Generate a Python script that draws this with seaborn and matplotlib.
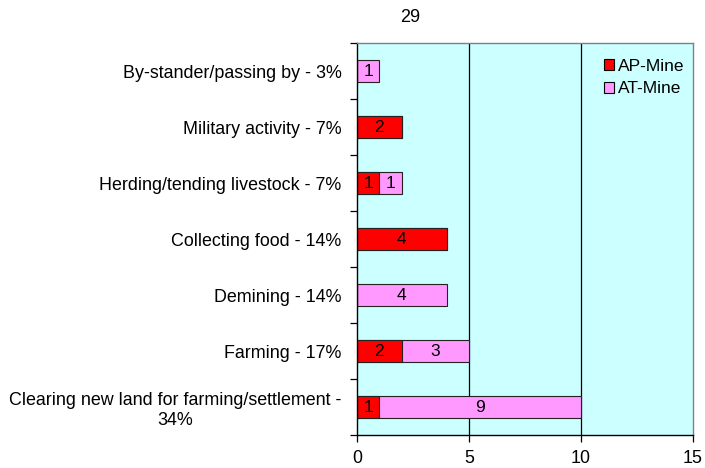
import matplotlib
matplotlib.use("Agg")
import matplotlib.pyplot as plt
import seaborn as sns
import pandas as pd
import numpy as np
from matplotlib.patches import Patch

categories = [
    "By-stander/passing by - 3%",
    "Military activity - 7%",
    "Herding/tending livestock - 7%",
    "Collecting food - 14%",
    "Demining - 14%",
    "Farming - 17%",
    "Clearing new land for farming/settlement -\n34%",
]
ap_mine = [0, 2, 1, 4, 0, 2, 1]
at_mine = [1, 0, 1, 0, 4, 3, 9]
x_ticks = [0, 5, 10, 15]
title = "29"

sns.set_theme(style="white")
plt.rcParams["font.family"] = ["Liberation Sans", "DejaVu Sans"]
plt.rcParams["text.color"] = "black"
plt.rcParams["xtick.color"] = "black"
plt.rcParams["ytick.color"] = "black"
plt.rcParams["xtick.labelcolor"] = "black"
plt.rcParams["ytick.labelcolor"] = "black"

RED = "#FF0000"
PINK = "#FF99FF"
BG = "#CCFFFF"
FS = 12.9

df = pd.DataFrame({"cat": categories, "AP": ap_mine, "AT": at_mine})
df["total"] = df["AP"] + df["AT"]

fig = plt.figure(figsize=(7.05, 4.68), dpi=100)
ax = fig.add_axes([357/705, 1-435/468, (693-357)/705, (435-43)/468])
ax.set_facecolor(BG)

sns.barplot(data=df, x="total", y="cat", color=PINK, saturation=1, width=0.4,
            edgecolor="#222222", linewidth=0.8, ax=ax, zorder=3)
sns.barplot(data=df, x="AP", y="cat", color=RED, saturation=1, width=0.4,
            edgecolor="#222222", linewidth=0.8, ax=ax, zorder=4)

for i, (a, t) in enumerate(zip(ap_mine, at_mine)):
    if a > 0:
        ax.text(a/2, i, str(a), ha="center", va="center", fontsize=12.5, zorder=5, color="black")
    if t > 0:
        ax.text(a + t/2, i, str(t), ha="center", va="center", fontsize=12.5, zorder=5, color="black")

ax.set_xlim(0, 15)
ax.set_ylim(len(categories) - 0.5, -0.5)
ax.set_xticks(x_ticks)
ax.set_xticklabels([str(v) for v in x_ticks], fontsize=FS, color="black")
for v in x_ticks[1:-1]:
    ax.axvline(v, color="black", linewidth=0.9, zorder=1)

ax.set_yticks(range(len(categories)))
ax.set_yticklabels(categories, fontsize=FS, multialignment="center", color="black")
ax.set_yticks(np.arange(-0.5, len(categories), 1), minor=True)
ax.tick_params(axis="y", which="major", length=0, pad=11)
ax.tick_params(axis="y", which="minor", length=5, width=0.9, color="black", direction="out", left=True)
ax.tick_params(axis="x", length=5, width=0.9, color="black", direction="out", bottom=True, pad=6)
ax.set_xlabel("")
ax.set_ylabel("")

for s in ["left", "bottom"]:
    ax.spines[s].set_color("black")
    ax.spines[s].set_linewidth(1.0)
for s in ["top", "right"]:
    ax.spines[s].set_color("#808080")
    ax.spines[s].set_linewidth(1.0)
for s in ax.spines.values():
    s.set_zorder(6)

handles = [Patch(facecolor=RED, edgecolor="black", linewidth=0.8, label="AP-Mine"),
           Patch(facecolor=PINK, edgecolor="black", linewidth=0.8, label="AT-Mine")]
leg = ax.legend(handles=handles, loc="upper left", bbox_to_anchor=((588-357)/336, 1.0), frameon=False,
          fontsize=12.5, handlelength=0.6, handleheight=0.6, handletextpad=0.25,
          labelspacing=0.45, borderaxespad=0.5)
for txt in leg.get_texts():
    txt.set_color("black")

fig.text(410/705, 1-17/468, title, ha="center", va="center", fontsize=13, color="black")

fig.savefig("out.png", dpi=100)
